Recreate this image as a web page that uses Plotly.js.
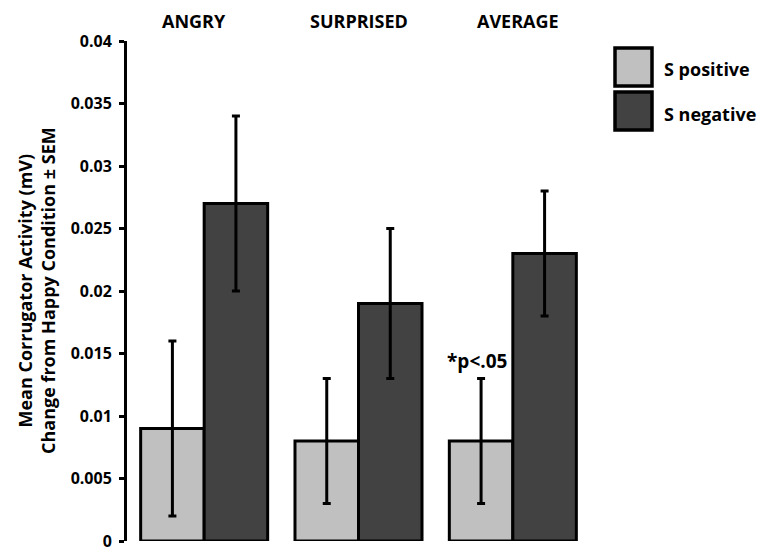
<!DOCTYPE html>
<html>
<head>
<meta charset="utf-8">
<script src="https://cdn.plot.ly/plotly-3.0.1.min.js"></script>
<style>html,body{margin:0;padding:0;background:#fff;}#chart{width:763px;height:554px;}</style>
</head>
<body>
<div id="chart"></div>
<script>
const categories = ['ANGRY', 'SURPRISED', 'AVERAGE'];
const seriesNames = ['S positive', 'S negative'];
const sPositive = [0.009, 0.008, 0.008];
const sPositiveErr = [0.007, 0.005, 0.005];
const sNegative = [0.027, 0.019, 0.023];
const sNegativeErr = [0.007, 0.006, 0.005];
const yTitleLines = ['Mean Corrugator Activity (mV)', 'Change from Happy Condition ± SEM'];
const sigLabel = '*p<.05';

const FONT = '"Open Sans", "DejaVu Sans", sans-serif';
const W = 763, H = 554;
const M = {l: 127, r: 173, t: 41, b: 13};
const PW = W - M.l - M.r, PH = H - M.t - M.b;
const px2x = p => (p - M.l) / PW;
const py2y = p => 1 - (p - M.t) / PH;

const colors = ['#c0c0c0', '#424242'];

function barTrace(name, y, err, color) {
  return {
    type: 'bar', name: name, x: categories, y: y,
    marker: {color: color, line: {color: '#000', width: 3}},
    error_y: {type: 'data', array: err, visible: true, color: '#000', thickness: 3, width: 4},
    showlegend: false, hoverinfo: 'skip'
  };
}

const data = [
  barTrace(seriesNames[0], sPositive, sPositiveErr, colors[0]),
  barTrace(seriesNames[1], sNegative, sNegativeErr, colors[1])
];

const catShift = [-10, 0, 5];
const annotations = [];
categories.forEach((c, i) => {
  annotations.push({
    x: c, y: py2y(21), xref: 'x', yref: 'paper', text: c, showarrow: false,
    xanchor: 'center', yanchor: 'middle', xshift: catShift[i],
    font: {family: FONT, size: 18, weight: 'bold', color: '#000'}
  });
});
annotations.push({
  x: px2x(36), y: 0.5, xref: 'paper', yref: 'paper',
  text: yTitleLines.join('<br>'), textangle: -90, showarrow: false,
  xanchor: 'center', yanchor: 'middle',
  font: {family: FONT, size: 18, weight: 'bold', color: '#000'}
});
annotations.push({
  x: categories[2], y: sPositive[2] + sPositiveErr[2], xref: 'x', yref: 'y',
  text: sigLabel, showarrow: false, xanchor: 'center', yanchor: 'middle',
  xshift: -36, yshift: 18,
  font: {family: FONT, size: 19, weight: 'bold', color: '#000'}
});

const legendBoxes = [[48, 86], [92, 130]];
const legendTextY = [69, 114];
const shapes = [];
seriesNames.forEach((n, i) => {
  shapes.push({
    type: 'rect', xref: 'paper', yref: 'paper',
    x0: px2x(615), x1: px2x(652), y0: py2y(legendBoxes[i][1]), y1: py2y(legendBoxes[i][0]),
    fillcolor: colors[i], line: {color: '#000', width: 3.5}
  });
  annotations.push({
    x: px2x(662), y: py2y(legendTextY[i]), xref: 'paper', yref: 'paper',
    text: n, showarrow: false, xanchor: 'left', yanchor: 'middle',
    font: {family: FONT, size: 18, weight: 'bold', color: '#000'}
  });
});

const layout = {
  width: W, height: H,
  margin: M,
  paper_bgcolor: '#fff', plot_bgcolor: '#fff',
  barmode: 'group', bargap: 0.177, bargroupgap: 0,
  showlegend: false,
  font: {family: FONT, color: '#000'},
  xaxis: {
    type: 'category', range: [-0.5, 2.5], showticklabels: false, ticks: '',
    showline: false, showgrid: false, zeroline: false, fixedrange: true
  },
  yaxis: {
    range: [0, 0.04], tick0: 0, dtick: 0.005, ticks: 'outside', ticklen: 5, tickwidth: 3,
    tickcolor: '#000', showline: true, linewidth: 3, linecolor: '#000',
    showgrid: false, zeroline: false, ticklabelstandoff: 4,
    tickfont: {family: FONT, size: 16, weight: 'bold', color: '#000'}
  },
  annotations: annotations,
  shapes: shapes
};

Plotly.newPlot('chart', data, layout, {staticPlot: true, displayModeBar: false});
</script>
</body>
</html>
